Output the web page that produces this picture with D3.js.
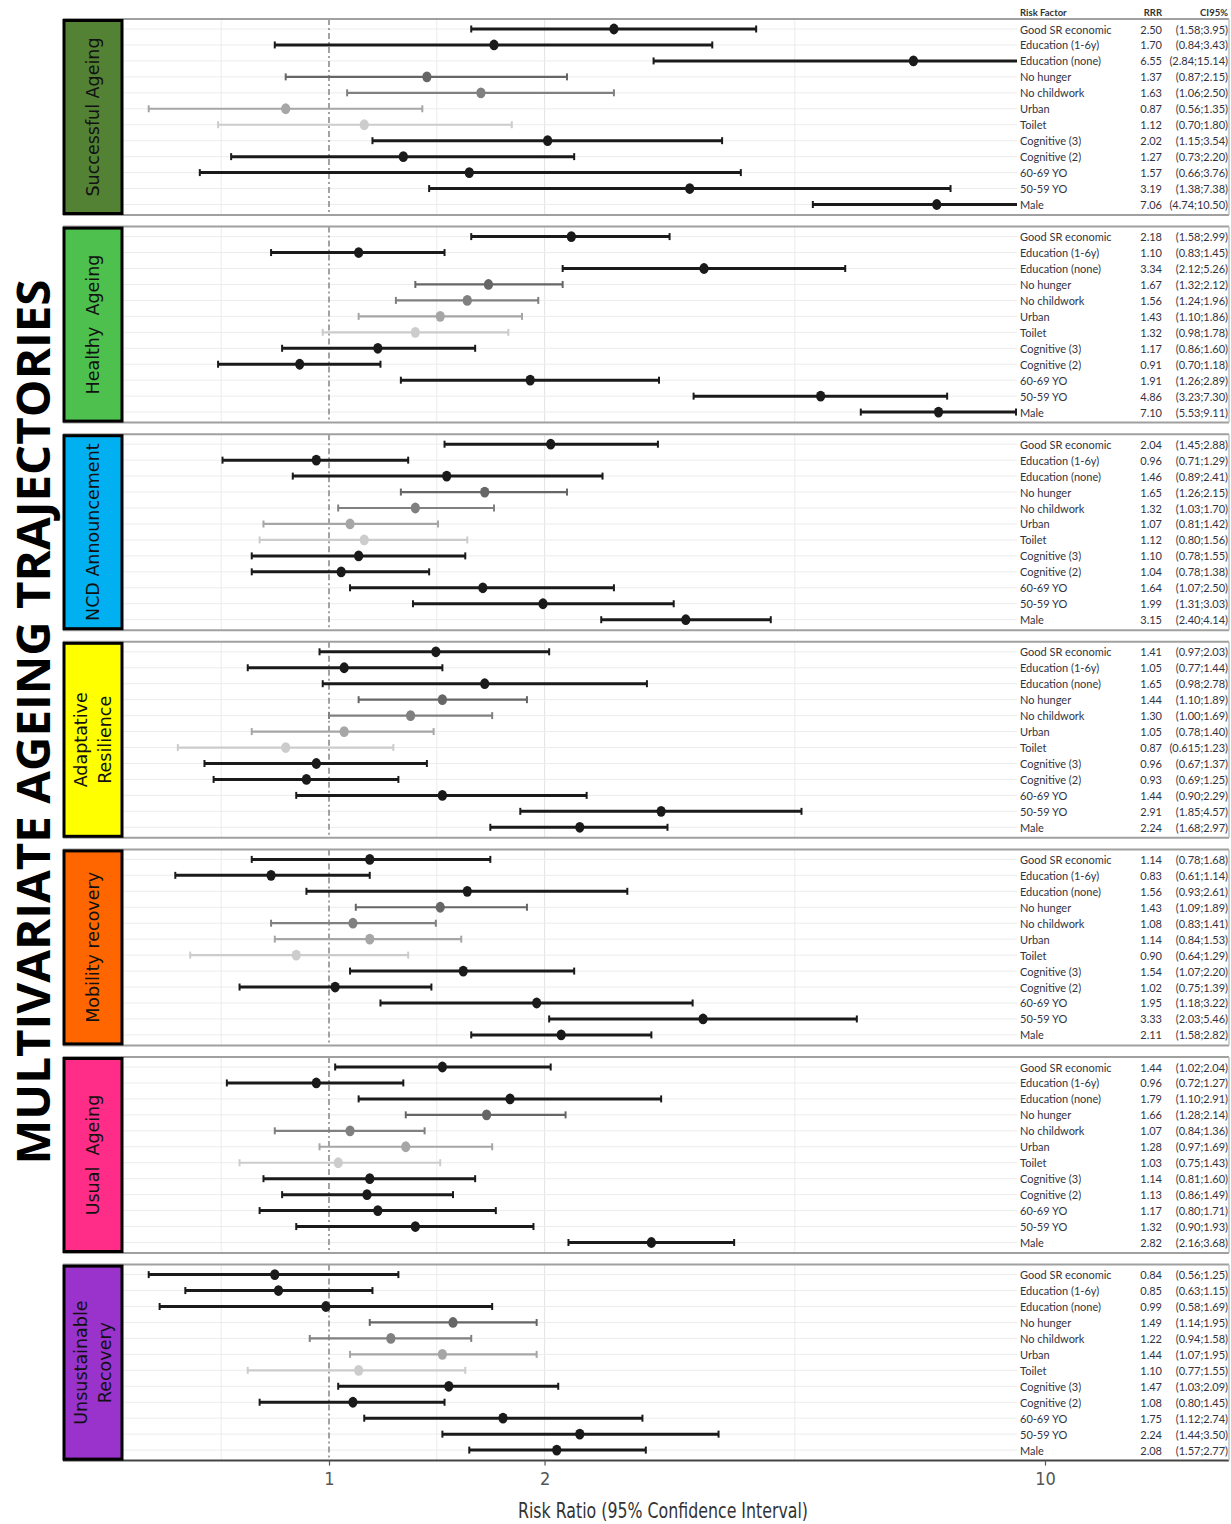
<!DOCTYPE html>
<html>
<head>
<meta charset="utf-8">
<script src="https://cdn.jsdelivr.net/npm/d3@7"></script>
<style>
  html, body { margin: 0; padding: 0; background: #fff; }
  svg { display: block; }
</style>
</head>
<body>
<svg id="chart" width="1231" height="1524"></svg>
<script>
// ---------------- DATA ----------------
const factors = ["Good SR economic", "Education (1-6y)", "Education (none)", "No hunger", "No childwork",
  "Urban", "Toilet", "Cognitive (3)", "Cognitive (2)", "60-69 YO", "50-59 YO", "Male"];

const trajectories = ["Successful Ageing", "Healthy  Ageing", "NCD Announcement", "Adaptative Resilience",
  "Mobility recovery", "Usual  Ageing", "Unsustainable Recovery"];
const trajectoryLines = [["Successful Ageing"], ["Healthy  Ageing"], ["NCD Announcement"], ["Adaptative", "Resilience"],
  ["Mobility recovery"], ["Usual  Ageing"], ["Unsustainable", "Recovery"]];
const trajectoryColors = ["#548235", "#4ec04e", "#00b0f0", "#ffff00", "#ff6600", "#ff2d87", "#9933cc"];

// RRR (point estimates) and 95% CI per trajectory, in factor order
const rrrSuccessful   = [2.50, 1.70, 6.55, 1.37, 1.63, 0.87, 1.12, 2.02, 1.27, 1.57, 3.19, 7.06];
const loSuccessful    = [1.58, 0.84, 2.84, 0.87, 1.06, 0.56, 0.70, 1.15, 0.73, 0.66, 1.38, 4.74];
const hiSuccessful    = [3.95, 3.43, 15.14, 2.15, 2.50, 1.35, 1.80, 3.54, 2.20, 3.76, 7.38, 10.50];

const rrrHealthy      = [2.18, 1.10, 3.34, 1.67, 1.56, 1.43, 1.32, 1.17, 0.91, 1.91, 4.86, 7.10];
const loHealthy       = [1.58, 0.83, 2.12, 1.32, 1.24, 1.1, 0.98, 0.86, 0.70, 1.26, 3.23, 5.53];
const hiHealthy       = [2.99, 1.45, 5.26, 2.12, 1.96, 1.86, 1.78, 1.60, 1.18, 2.89, 7.30, 9.11];

const rrrNCD          = [2.04, 0.96, 1.46, 1.65, 1.32, 1.07, 1.12, 1.10, 1.04, 1.64, 1.99, 3.15];
const loNCD           = [1.45, 0.71, 0.89, 1.26, 1.03, 0.81, 0.80, 0.78, 0.78, 1.07, 1.31, 2.40];
const hiNCD           = [2.88, 1.29, 2.41, 2.15, 1.70, 1.42, 1.56, 1.55, 1.38, 2.50, 3.03, 4.14];

const rrrAdaptative   = [1.41, 1.05, 1.65, 1.44, 1.30, 1.05, 0.87, 0.96, 0.93, 1.44, 2.91, 2.24];
const loAdaptative    = [0.97, 0.77, 0.98, 1.10, 1.00, 0.78, 0.615, 0.67, 0.69, 0.90, 1.85, 1.68];
const hiAdaptative    = [2.03, 1.44, 2.78, 1.89, 1.69, 1.40, 1.23, 1.37, 1.25, 2.29, 4.57, 2.97];

const rrrMobility     = [1.14, 0.83, 1.56, 1.43, 1.08, 1.14, 0.90, 1.54, 1.02, 1.95, 3.33, 2.11];
const loMobility      = [0.78, 0.61, 0.93, 1.09, 0.83, 0.84, 0.64, 1.07, 0.75, 1.18, 2.03, 1.58];
const hiMobility      = [1.68, 1.14, 2.61, 1.89, 1.41, 1.53, 1.29, 2.20, 1.39, 3.22, 5.46, 2.82];

const rrrUsual        = [1.44, 0.96, 1.79, 1.66, 1.07, 1.28, 1.03, 1.14, 1.13, 1.17, 1.32, 2.82];
const loUsual         = [1.02, 0.72, 1.10, 1.28, 0.84, 0.97, 0.75, 0.81, 0.86, 0.80, 0.90, 2.16];
const hiUsual         = [2.04, 1.27, 2.91, 2.14, 1.36, 1.69, 1.43, 1.60, 1.49, 1.71, 1.93, 3.68];

const rrrUnsustainable = [0.84, 0.85, 0.99, 1.49, 1.22, 1.44, 1.10, 1.47, 1.08, 1.75, 2.24, 2.08];
const loUnsustainable  = [0.56, 0.63, 0.58, 1.14, 0.94, 1.07, 0.77, 1.03, 0.80, 1.12, 1.44, 1.57];
const hiUnsustainable  = [1.25, 1.15, 1.69, 1.95, 1.58, 1.95, 1.55, 2.09, 1.45, 2.74, 3.50, 2.77];

const rrrAll = [rrrSuccessful, rrrHealthy, rrrNCD, rrrAdaptative, rrrMobility, rrrUsual, rrrUnsustainable];
const loAll  = [loSuccessful, loHealthy, loNCD, loAdaptative, loMobility, loUsual, loUnsustainable];
const hiAll  = [hiSuccessful, hiHealthy, hiNCD, hiAdaptative, hiMobility, hiUsual, hiUnsustainable];

const xTicks = [1, 2, 10];
const xMinorGrid = [Math.SQRT1_2, Math.SQRT2, Math.sqrt(20)];
const factorColors = ["#1a1a1a", "#1a1a1a", "#1a1a1a", "#666666", "#808080", "#a6a6a6", "#cccccc",
  "#1a1a1a", "#1a1a1a", "#1a1a1a", "#1a1a1a", "#1a1a1a"];

// ---------------- LAYOUT ----------------
const svg = d3.select("#chart");
const boxX = 64, boxW = 58;
const plotL = 122, plotR = 1017, tableL = 1020, rightEdge = 1229;
const panelTop0 = 19, panelStep = 207.6, panelH = 196;

const x = d3.scaleLog().domain([1, 10]).range([329, 1045]);
const panelY = d3.scaleLinear().domain([0, 1]).range([panelTop0, panelTop0 + panelStep]);

const fmt2 = v => { const s = String(v); const d = (s.split(".")[1] || "").length; return d >= 2 ? s : v.toFixed(2); };

svg.append("defs").append("clipPath").attr("id", "plotclip")
  .append("rect").attr("x", plotL).attr("y", 0).attr("width", plotR - plotL).attr("height", 1524);

// Title
svg.append("text")
  .attr("transform", `translate(50,722) rotate(-90)`)
  .attr("text-anchor", "middle")
  .attr("font-family", "'Open Sans', 'DejaVu Sans', sans-serif")
  .attr("font-weight", "bold")
  .attr("font-size", 47)
  .attr("fill", "#000")
  .attr("textLength", 885)
  .attr("lengthAdjust", "spacingAndGlyphs")
  .text("MULTIVARIATE AGEING TRAJECTORIES");

// Header of the table
const headerFont = "Lato, 'Open Sans', sans-serif";
const hdr = svg.append("g").attr("font-family", headerFont).attr("font-size", 9.5).attr("font-weight", "bold").attr("fill", "#333");
hdr.append("text").attr("x", tableL).attr("y", 12).attr("dominant-baseline", "central").text("Risk Factor");
hdr.append("text").attr("x", 1162).attr("y", 12).attr("dominant-baseline", "central").attr("text-anchor", "end").text("RRR");
hdr.append("text").attr("x", 1228).attr("y", 12).attr("dominant-baseline", "central").attr("text-anchor", "end").text("CI95%");

trajectories.forEach((name, i) => {
  const top = panelY(i);
  const bottom = top + panelH;
  const y = d3.scalePoint().domain(factors).range([top + 10, top + 185.5]);
  const g = svg.append("g");

  const rows = factors.map((f, k) => ({ f, k, rrr: rrrAll[i][k], lo: loAll[i][k], hi: hiAll[i][k] }));

  // vertical grid
  const grid = g.append("g").attr("clip-path", "url(#plotclip)");
  grid.selectAll("line.minor").data(xMinorGrid).join("line")
    .attr("x1", d => x(d)).attr("x2", d => x(d)).attr("y1", top).attr("y2", bottom)
    .attr("stroke", "#ececec").attr("stroke-width", 1);
  grid.selectAll("line.major").data([2, 10]).join("line")
    .attr("x1", d => x(d)).attr("x2", d => x(d)).attr("y1", top).attr("y2", bottom)
    .attr("stroke", "#e6e6e6").attr("stroke-width", 1.2);
  // horizontal grid
  grid.selectAll("line.h").data(rows).join("line")
    .attr("x1", plotL).attr("x2", plotR).attr("y1", d => y(d.f)).attr("y2", d => y(d.f))
    .attr("stroke", "#ececec").attr("stroke-width", 1);
  // reference line at 1
  grid.append("line").attr("x1", x(1)).attr("x2", x(1)).attr("y1", top).attr("y2", bottom)
    .attr("stroke", "#8c8c8c").attr("stroke-width", 1.6).attr("stroke-dasharray", "6,3,2,3");

  // panel borders
  g.append("line").attr("x1", boxX - 1).attr("x2", rightEdge).attr("y1", top).attr("y2", top)
    .attr("stroke", "#a0a0a0").attr("stroke-width", 2);
  g.append("line").attr("x1", boxX - 1).attr("x2", rightEdge).attr("y1", bottom).attr("y2", bottom)
    .attr("stroke", i === trajectories.length - 1 ? "#444" : "#a0a0a0").attr("stroke-width", 2);
  g.append("line").attr("x1", rightEdge).attr("x2", rightEdge).attr("y1", top).attr("y2", bottom)
    .attr("stroke", "#c0c0c0").attr("stroke-width", 1.5);

  // whiskers, caps, points
  const marks = g.append("g").attr("clip-path", "url(#plotclip)");
  const sw = k => (factorColors[k] === "#1a1a1a" ? 3 : 2.2);
  marks.selectAll("line.ci").data(rows).join("line")
    .attr("x1", d => x(d.lo)).attr("x2", d => x(d.hi))
    .attr("y1", d => y(d.f)).attr("y2", d => y(d.f))
    .attr("stroke", d => factorColors[d.k]).attr("stroke-width", d => sw(d.k));
  marks.selectAll("line.capL").data(rows).join("line")
    .attr("x1", d => x(d.lo)).attr("x2", d => x(d.lo))
    .attr("y1", d => y(d.f) - 3.5).attr("y2", d => y(d.f) + 3.5)
    .attr("stroke", d => factorColors[d.k]).attr("stroke-width", 2);
  marks.selectAll("line.capR").data(rows).join("line")
    .attr("x1", d => x(d.hi)).attr("x2", d => x(d.hi))
    .attr("y1", d => y(d.f) - 3.5).attr("y2", d => y(d.f) + 3.5)
    .attr("stroke", d => factorColors[d.k]).attr("stroke-width", 2);
  marks.selectAll("ellipse.pt").data(rows).join("ellipse")
    .attr("cx", d => x(d.rrr)).attr("cy", d => y(d.f)).attr("rx", 4.6).attr("ry", 5.4)
    .attr("fill", d => factorColors[d.k]);

  // label box
  g.append("rect").attr("x", boxX).attr("y", top + 1.5).attr("width", boxW).attr("height", panelH - 3)
    .attr("fill", trajectoryColors[i]).attr("stroke", "#000").attr("stroke-width", 3);
  const lines = trajectoryLines[i];
  const cx = boxX + boxW / 2, cy = top + panelH / 2;
  lines.forEach((ln, j) => {
    const off = (j - (lines.length - 1) / 2) * 24;
    g.append("text")
      .attr("transform", `translate(${cx + off},${cy}) rotate(-90)`)
      .attr("text-anchor", "middle").attr("dominant-baseline", "central")
      .attr("font-family", "'DejaVu Sans', 'Open Sans', sans-serif")
      .attr("font-size", 17.5).attr("fill", "#111")
      .attr("xml:space", "preserve")
      .style("white-space", "pre")
      .text(ln);
  });

  // table
  const tf = "Lato, 'Open Sans', sans-serif";
  const tg = g.append("g").attr("font-family", tf).attr("font-size", 11).attr("fill", "#33333f");
  tg.selectAll("text.name").data(rows).join("text")
    .attr("x", tableL).attr("y", d => y(d.f)).attr("dominant-baseline", "central").text(d => d.f);
  tg.selectAll("text.rrr").data(rows).join("text")
    .attr("x", 1162).attr("y", d => y(d.f)).attr("dominant-baseline", "central").attr("text-anchor", "end")
    .text(d => d.rrr.toFixed(2));
  tg.selectAll("text.ci").data(rows).join("text")
    .attr("x", 1228).attr("y", d => y(d.f)).attr("dominant-baseline", "central").attr("text-anchor", "end")
    .text(d => `(${fmt2(d.lo)};${fmt2(d.hi)})`);
});

// x axis
const axisY = panelY(trajectories.length - 1) + panelH;
const axis = svg.append("g").attr("transform", `translate(0,${axisY})`)
  .call(d3.axisBottom(x).tickValues(xTicks).tickFormat(d3.format("d")).tickSize(5).tickPadding(7));
axis.select(".domain").remove();
axis.selectAll(".tick line").attr("stroke", "#555").attr("stroke-width", 1.2);
axis.selectAll(".tick text")
  .attr("font-family", "'Liberation Sans Narrow', 'DejaVu Sans Condensed', sans-serif")
  .attr("font-size", 18).attr("fill", "#555");

svg.append("text")
  .attr("x", 663).attr("y", axisY + 57)
  .attr("text-anchor", "middle")
  .attr("font-family", "'Liberation Sans Narrow', 'DejaVu Sans Condensed', sans-serif")
  .attr("font-size", 22).attr("fill", "#333")
  .attr("textLength", 290).attr("lengthAdjust", "spacingAndGlyphs")
  .text("Risk Ratio (95% Confidence Interval)");
</script>
</body>
</html>
